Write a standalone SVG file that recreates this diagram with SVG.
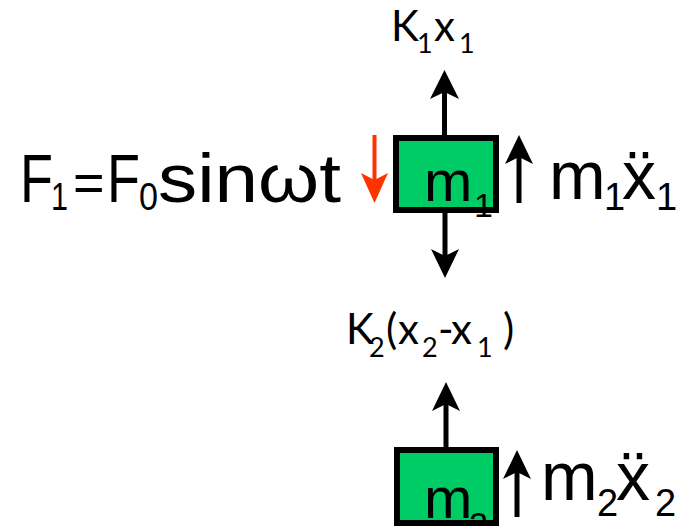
<svg xmlns="http://www.w3.org/2000/svg" width="687" height="526" viewBox="0 0 687 526">
<defs>
<style>
.box{fill:#00cc66;stroke:#000;stroke-width:6}
.shaft{stroke:#000;stroke-width:5;fill:none}
.head{fill:#000}
.red .shaft{stroke:#ff3300;stroke-width:4}
.red .head{fill:#ff3300}
.ar{font-family:"Liberation Sans",Arial,sans-serif;fill:#000}
.cal{font-family:Lato,"Liberation Sans",sans-serif;fill:#000}
</style>
</defs>
<rect width="687" height="526" fill="#fff"/>
<g id="connectors">
<g id="arrow-k1"><line class="shaft" x1="444.5" y1="135" x2="444.5" y2="92"/><polygon class="head" points="444.5,70 459,99 444.5,92 430,99"/></g>
<g id="arrow-down-m1"><line class="shaft" x1="445" y1="213" x2="445" y2="256"/><polygon class="head" points="445,278 459,249 445,256 431,249"/></g>
<g id="arrow-force" class="red"><line class="shaft" x1="374.5" y1="135" x2="374.5" y2="180"/><polygon class="head" points="374.5,203 388,173 374.5,180 361,173"/></g>
<g id="arrow-inertia1"><line class="shaft" x1="519" y1="203" x2="519" y2="157"/><polygon class="head" points="519,135 533,164 519,157 505,164"/></g>
<g id="arrow-k2"><line class="shaft" x1="446" y1="447" x2="446" y2="404"/><polygon class="head" points="446,382 460,411 446,404 432,411"/></g>
<g id="arrow-inertia2"><line class="shaft" x1="517" y1="517" x2="517" y2="472"/><polygon class="head" points="517,450 531,479 517,472 503,479"/></g>
</g>
<g id="m1">
<rect class="box" x="396" y="138" width="100" height="72"/>
<text class="ar" font-size="58"><tspan x="424" y="201">m</tspan><tspan x="474" y="217" font-size="34">1</tspan></text>
</g>
<g id="m2">
<rect class="box" x="397" y="450" width="99" height="73"/>
<text class="ar" font-size="58"><tspan x="424" y="518">m</tspan><tspan x="469" y="536" font-size="34">2</tspan></text>
</g>
<g id="label-force">
<text class="ar" font-size="68"><tspan x="20" y="202" textLength="33" lengthAdjust="spacingAndGlyphs">F</tspan><tspan x="51" y="210" font-size="38" textLength="17" lengthAdjust="spacingAndGlyphs">1</tspan><tspan x="73" y="201" font-size="54">=</tspan><tspan x="107" y="202" textLength="33" lengthAdjust="spacingAndGlyphs">F</tspan><tspan x="139" y="210" font-size="38" textLength="19" lengthAdjust="spacingAndGlyphs">0</tspan><tspan x="158" y="202" textLength="183" lengthAdjust="spacingAndGlyphs">sinωt</tspan></text>
</g>
<g id="label-inertia1">
<text class="ar" font-size="68"><tspan x="549" y="199">m</tspan><tspan x="604" y="210" font-size="38">1</tspan><tspan x="622" y="199">ẍ</tspan><tspan x="656" y="210" font-size="38">1</tspan></text>
</g>
<g id="label-inertia2">
<text class="ar" font-size="68"><tspan x="541" y="500">m</tspan><tspan x="597" y="516" font-size="38">2</tspan><tspan x="616" y="500">ẍ</tspan><tspan x="655" y="516" font-size="38">2</tspan></text>
</g>
<g id="label-k1">
<text class="cal" font-size="42"><tspan x="391" y="41">K</tspan><tspan x="417" y="53" font-size="27">1</tspan><tspan x="434" y="41">x</tspan><tspan x="459" y="53" font-size="27">1</tspan></text>
</g>
<g id="label-k2">
<text class="cal" font-size="42"><tspan x="346" y="344">K</tspan><tspan x="369" y="357" font-size="27">2</tspan><tspan x="386" y="344">(</tspan><tspan x="398" y="344">x</tspan><tspan x="422" y="357" font-size="27">2</tspan><tspan x="438" y="344">-</tspan><tspan x="451" y="344">x</tspan><tspan x="477" y="357" font-size="27">1</tspan><tspan x="503" y="344">)</tspan></text>
</g>
</svg>
